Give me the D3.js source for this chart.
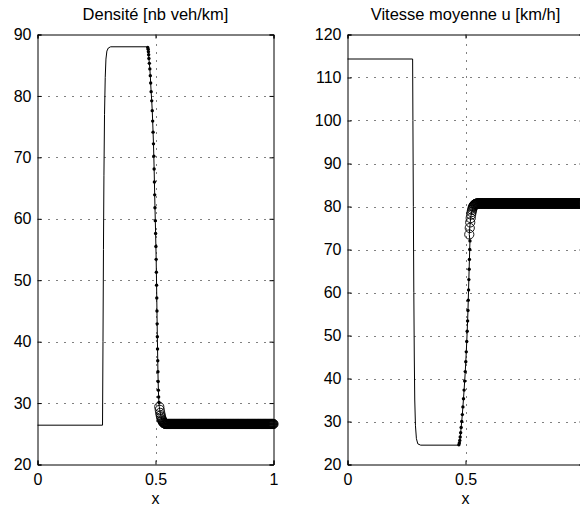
<!DOCTYPE html>
<html><head><meta charset="utf-8">
<script src="https://cdn.jsdelivr.net/npm/d3@7"></script>
<style>
html,body{margin:0;padding:0;background:#fff;}
text{font-family:"Liberation Sans",Arial,Helvetica,sans-serif;fill:#000;}
</style></head>
<body>
<svg id="chart" width="580" height="509"></svg>
<script>
// ---------- data ----------
const titles = ["Densité [nb veh/km]", "Vitesse moyenne u [km/h]"];
const xLabel = "x";
const xTicks = [0, 0.5, 1];
const xTickLabels = ["0", "0.5", "1"];
const rhoTicks = [20, 30, 40, 50, 60, 70, 80, 90];
const uTicks = [20, 30, 40, 50, 60, 70, 80, 90, 100, 110, 120];

// solid line (part before the marked zone)
const rhoLineX = [0, 0.2755, 0.2775, 0.2795, 0.2815, 0.2840, 0.2870, 0.2900, 0.2940, 0.3000, 0.3100, 0.4600, 0.4660];
const rhoLineY = [26.4, 26.4, 40, 55, 67, 77, 83, 86, 87.3, 87.8, 88, 88, 87.95];
const uLineX = [0, 0.2760, 0.2772, 0.2790, 0.2810, 0.2830, 0.2850, 0.2880, 0.2920, 0.2980, 0.3100, 0.4700];
const uLineY = [114.3, 114.3, 100, 80, 60, 45, 35, 29, 26, 24.8, 24.5, 24.5];

// small dot markers along the steep front
const rhoDotX = [0.4670,0.4690,0.4700,0.4710,0.4720,0.4740,0.4760,0.4780,0.4795,0.4815,0.4840,0.4862,0.4880,0.4897,0.4914,0.4929,0.4942,0.4954,0.4966,0.4978,0.4992,0.5005,0.5017,0.5028,0.5037,0.5046,0.5054,0.5062,0.5070,0.5078,0.5087,0.5095,0.5103,0.5112,0.5122,0.5133,0.5146];
const rhoDotY = [87.9,87.6,87.2,86.7,86.1,85.3,84.4,83.3,82.1,80.7,79.2,77.6,75.9,74.1,72.2,70.2,68.1,66.0,63.9,61.8,59.7,57.6,55.5,53.4,51.3,49.2,47.1,45.0,42.9,40.8,38.8,36.9,35.1,33.5,32.1,31.0,30.1];
const uDotX = [0.4720,0.4740,0.4758,0.4775,0.4795,0.4815,0.4840,0.4865,0.4890,0.4915,0.4940,0.4965,0.4990,0.5012,0.5033,0.5053,0.5072,0.5089,0.5104,0.5117,0.5130,0.5142,0.5154,0.5166,0.5178,0.5190];
const uDotY = [24.6,25.0,25.6,26.4,27.4,28.6,30.0,31.6,33.4,35.3,37.3,39.4,41.6,43.9,46.2,48.6,51.0,53.4,55.8,58.2,60.6,63.0,65.4,67.7,70.0,72.0];

// open-circle markers: mesh from 0.516 to 1 (step 0.002)
const circleX0 = 0.516, circleStep = 0.002, circleCount = 243;
const rhoCircleY = [29.4,28.9,28.4,28.0,27.7,27.4,27.2,27.05,26.9,26.8,26.75,26.7,26.65,26.62,
26.6,26.6,26.6,26.6,26.6,26.6,26.6,26.6,26.6,26.6,26.6,26.6,26.6,26.6,26.6,26.6,26.6,26.6,26.6,26.6,26.6,26.6,26.6,26.6,26.6,26.6,
26.6,26.6,26.6,26.6,26.6,26.6,26.6,26.6,26.6,26.6,26.6,26.6,26.6,26.6,26.6,26.6,26.6,26.6,26.6,26.6,26.6,26.6,26.6,26.6,26.6,26.6,
26.6,26.6,26.6,26.6,26.6,26.6,26.6,26.6,26.6,26.6,26.6,26.6,26.6,26.6,26.6,26.6,26.6,26.6,26.6,26.6,26.6,26.6,26.6,26.6,26.6,26.6,
26.6,26.6,26.6,26.6,26.6,26.6,26.6,26.6,26.6,26.6,26.6,26.6,26.6,26.6,26.6,26.6,26.6,26.6,26.6,26.6,26.6,26.6,26.6,26.6,26.6,26.6,
26.6,26.6,26.6,26.6,26.6,26.6,26.6,26.6,26.6,26.6,26.6,26.6,26.6,26.6,26.6,26.6,26.6,26.6,26.6,26.6,26.6,26.6,26.6,26.6,26.6,26.6,
26.6,26.6,26.6,26.6,26.6,26.6,26.6,26.6,26.6,26.6,26.6,26.6,26.6,26.6,26.6,26.6,26.6,26.6,26.6,26.6,26.6,26.6,26.6,26.6,26.6,26.6,
26.6,26.6,26.6,26.6,26.6,26.6,26.6,26.6,26.6,26.6,26.6,26.6,26.6,26.6,26.6,26.6,26.6,26.6,26.6,26.6,26.6,26.6,26.6,26.6,26.6,26.6,
26.6,26.6,26.6,26.6,26.6,26.6,26.6,26.6,26.6,26.6,26.6,26.6,26.6,26.6,26.6,26.6,26.6,26.6,26.6,26.6,26.6,26.6,26.6,26.6,26.6,26.6,
26.6,26.6,26.6,26.6,26.6,26.6,26.6,26.6,26.6,26.6,26.6,26.6,26.6,26.6,26.6,26.6,26.6,26.6,26.6,26.6,26.6,26.6,26.6,26.6,26.6,26.6,26.6];
const uCircleY = [73.5,75.0,76.3,77.3,78.1,78.7,79.2,79.6,79.9,80.1,80.3,80.4,80.5,80.55,80.6,80.65,
80.7,80.7,80.7,80.7,80.7,80.7,80.7,80.7,80.7,80.7,80.7,80.7,80.7,80.7,80.7,80.7,80.7,80.7,80.7,80.7,80.7,80.7,80.7,80.7,
80.7,80.7,80.7,80.7,80.7,80.7,80.7,80.7,80.7,80.7,80.7,80.7,80.7,80.7,80.7,80.7,80.7,80.7,80.7,80.7,80.7,80.7,80.7,80.7,80.7,80.7,
80.7,80.7,80.7,80.7,80.7,80.7,80.7,80.7,80.7,80.7,80.7,80.7,80.7,80.7,80.7,80.7,80.7,80.7,80.7,80.7,80.7,80.7,80.7,80.7,80.7,80.7,
80.7,80.7,80.7,80.7,80.7,80.7,80.7,80.7,80.7,80.7,80.7,80.7,80.7,80.7,80.7,80.7,80.7,80.7,80.7,80.7,80.7,80.7,80.7,80.7,80.7,80.7,
80.7,80.7,80.7,80.7,80.7,80.7,80.7,80.7,80.7,80.7,80.7,80.7,80.7,80.7,80.7,80.7,80.7,80.7,80.7,80.7,80.7,80.7,80.7,80.7,80.7,80.7,
80.7,80.7,80.7,80.7,80.7,80.7,80.7,80.7,80.7,80.7,80.7,80.7,80.7,80.7,80.7,80.7,80.7,80.7,80.7,80.7,80.7,80.7,80.7,80.7,80.7,80.7,
80.7,80.7,80.7,80.7,80.7,80.7,80.7,80.7,80.7,80.7,80.7,80.7,80.7,80.7,80.7,80.7,80.7,80.7,80.7,80.7,80.7,80.7,80.7,80.7,80.7,80.7,
80.7,80.7,80.7,80.7,80.7,80.7,80.7,80.7,80.7,80.7,80.7,80.7,80.7,80.7,80.7,80.7,80.7,80.7,80.7,80.7,80.7,80.7,80.7,80.7,80.7,80.7,
80.7,80.7,80.7,80.7,80.7,80.7,80.7,80.7,80.7,80.7,80.7,80.7,80.7,80.7,80.7,80.7,80.7,80.7,80.7,80.7,80.7,80.7,80.7,80.7,80.7,80.7,80.7];

// ---------- drawing ----------
const svg = d3.select("#chart");
const plotTop = 34.5, plotBottom = 464.5, plotW = 236;
const FONT = 16, TITLE_FONT = 16.5;
const WIN_W = 580;

function zip(xs, ys) { return xs.map((x, i) => [x, ys[i]]); }
function circlePts(ys) { return ys.slice(0, circleCount).map((y, i) => [circleX0 + i * circleStep, y]); }

function panel(opts) {
  const g = svg.append("g");
  const x = d3.scaleLinear().domain([0, 1]).range([opts.left, opts.left + plotW]);
  const y = d3.scaleLinear().domain(opts.yDomain).range([plotBottom, plotTop]);
  const L = opts.left, R = opts.left + plotW;

  // grid
  const grid = g.append("g").attr("stroke", "#000").attr("stroke-width", 1)
    .attr("stroke-dasharray", "1,7");
  opts.yTicks.filter(t => t > opts.yDomain[0] && t < opts.yDomain[1]).forEach(t => {
    grid.append("line").attr("x1", L).attr("x2", R).attr("y1", Math.round(y(t)) + 0.5).attr("y2", Math.round(y(t)) + 0.5)
      .attr("stroke-dashoffset", -3);
  });
  grid.append("line").attr("x1", Math.round(x(0.5)) + 0.5).attr("x2", Math.round(x(0.5)) + 0.5)
    .attr("y1", plotBottom).attr("y2", plotTop).attr("stroke-dashoffset", -3);

  // axes with d3 (labels past the window edge are not shown in the reference)
  const axL = d3.axisLeft(y).tickValues(opts.yTicks).tickSize(-4).tickPadding(6).tickFormat(d3.format("d"));
  const axR = d3.axisRight(y).tickValues(opts.yTicks).tickSize(-4).tickFormat("");
  const axB = d3.axisBottom(x).tickValues(xTicks).tickSize(-4).tickPadding(9)
    .tickFormat((d, i) => (x(d) + 6 <= WIN_W ? xTickLabels[i] : ""));
  const axT = d3.axisTop(x).tickValues(xTicks).tickSize(-4).tickFormat("");
  [[axL, `translate(${L},0)`], [axR, `translate(${R},0)`], [axB, `translate(0,${plotBottom})`], [axT, `translate(0,${plotTop})`]]
    .forEach(([ax, tr]) => {
      const a = g.append("g").attr("transform", tr).call(ax);
      a.selectAll("path.domain").attr("stroke", "#000").attr("stroke-width", 1);
      a.selectAll("line").attr("stroke", "#000");
      a.selectAll("text").style("font-size", FONT + "px").attr("fill", "#000");
    });

  const data = g.append("g");
  const lineGen = d3.line().x(d => x(d[0])).y(d => y(d[1]));
  const circles = circlePts(opts.circleY);
  const fullLine = opts.line.concat(opts.dots, circles);
  data.append("path").datum(fullLine).attr("d", lineGen)
    .attr("fill", "none").attr("stroke", "#000").attr("stroke-width", 1);
  data.selectAll("circle.dot").data(opts.dots).join("circle").attr("class", "dot")
    .attr("cx", d => x(d[0])).attr("cy", d => y(d[1])).attr("r", 1.7).attr("fill", "#000");
  data.selectAll("circle.o").data(circles).join("circle").attr("class", "o")
    .attr("cx", d => x(d[0])).attr("cy", d => y(d[1])).attr("r", 4.6)
    .attr("fill", "none").attr("stroke", "#000").attr("stroke-width", 0.9);

  // title and x label
  g.append("text").attr("x", (L + R) / 2).attr("y", 20).attr("text-anchor", "middle")
    .style("font-size", TITLE_FONT + "px").text(opts.title);
  g.append("text").attr("x", (L + R) / 2).attr("y", 504).attr("text-anchor", "middle")
    .style("font-size", FONT + "px").text(xLabel);
}

panel({ idx: 0, left: 37.5, yDomain: [20, 90], yTicks: rhoTicks, title: titles[0],
  line: zip(rhoLineX, rhoLineY), dots: zip(rhoDotX, rhoDotY), circleY: rhoCircleY });
panel({ idx: 1, left: 347.5, yDomain: [20, 120], yTicks: uTicks, title: titles[1],
  line: zip(uLineX, uLineY), dots: zip(uDotX, uDotY), circleY: uCircleY });
</script>
</body></html>
